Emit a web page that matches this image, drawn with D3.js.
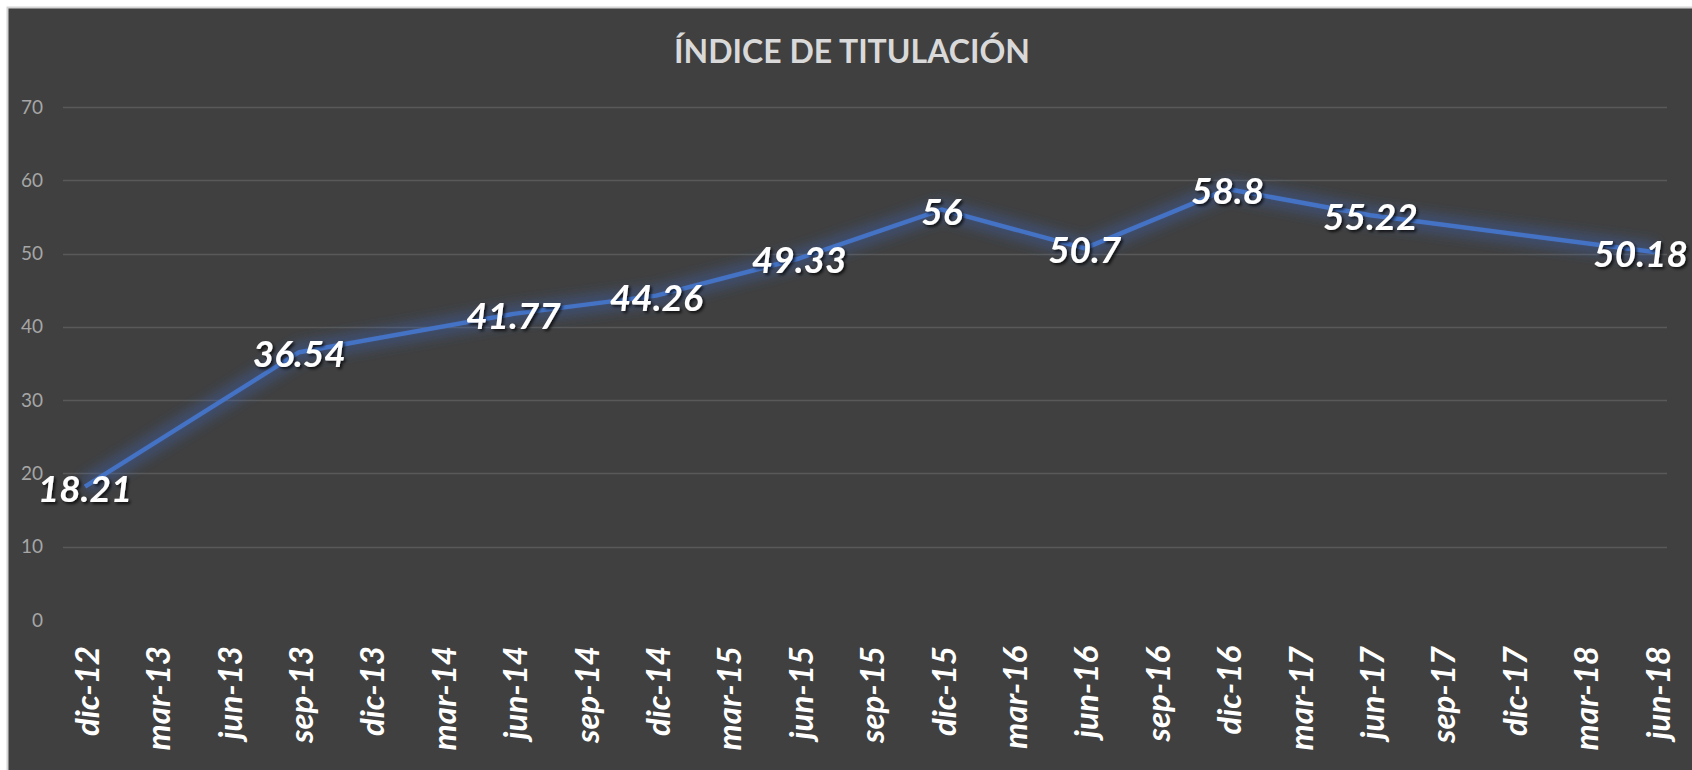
<!DOCTYPE html>
<html>
<head>
<meta charset="utf-8">
<script src="https://cdn.jsdelivr.net/npm/d3@7"></script>
<style>
  body { margin: 0; background: #ffffff; }
  svg { display: block; }
</style>
</head>
<body>
<svg id="chart"></svg>
<script>
const categories = [
  "dic-12", "mar-13", "jun-13", "sep-13", "dic-13", "mar-14", "jun-14", "sep-14",
  "dic-14", "mar-15", "jun-15", "sep-15", "dic-15", "mar-16", "jun-16", "sep-16",
  "dic-16", "mar-17", "jun-17", "sep-17", "dic-17", "mar-18", "jun-18"
];
// null where the quarter has no value, the line joins across the gap
const values = [
  18.21, null, null, 36.54, null, null, 41.77, null,
  44.26, null, 49.33, null, 56, null, 50.7, null,
  58.8, null, 55.22, null, null, null, 50.18
];
const yTicks = [0, 10, 20, 30, 40, 50, 60, 70];
const title = "ÍNDICE DE TITULACIÓN";

const width = 1692;
const height = 770;

const svg = d3.select("#chart")
  .attr("width", width)
  .attr("height", height);

const defs = svg.append("defs");

defs.append("filter")
  .attr("id", "glow")
  .attr("x", "-10%").attr("y", "-50%")
  .attr("width", "120%").attr("height", "200%")
  .append("feGaussianBlur")
  .attr("stdDeviation", 6);

const shadow = defs.append("filter")
  .attr("id", "shadow")
  .attr("x", "-20%").attr("y", "-30%")
  .attr("width", "140%").attr("height", "160%");
shadow.append("feDropShadow")
  .attr("dx", 2).attr("dy", 2)
  .attr("stdDeviation", 1.5)
  .attr("flood-color", "#000000")
  .attr("flood-opacity", 0.75);

// chart area
svg.append("rect")
  .attr("x", 7.5)
  .attr("y", 7.5)
  .attr("width", width)
  .attr("height", height)
  .attr("fill", "#404040")
  .attr("stroke", "#d4d4d4")
  .attr("stroke-width", 2);

const xScale = d3.scalePoint()
  .domain(categories)
  .range([85, 1656]);

const yScale = d3.scaleLinear()
  .domain([0, 70])
  .range([620, 107]);

// gridlines
svg.append("g")
  .selectAll("line")
  .data(yTicks.filter(d => d > 0))
  .join("line")
  .attr("x1", 63)
  .attr("x2", 1667)
  .attr("y1", d => Math.round(yScale(d)) + 0.5)
  .attr("y2", d => Math.round(yScale(d)) + 0.5)
  .attr("stroke", "#595959")
  .attr("stroke-width", 1.5);

// y axis labels
const yAxis = svg.append("g")
  .attr("transform", "translate(43,0)")
  .call(d3.axisLeft(yScale).tickValues(yTicks).tickSize(0).tickPadding(0));
yAxis.select(".domain").remove();
yAxis.selectAll("text")
  .attr("fill", "#a6a6a6")
  .attr("font-family", "Lato, sans-serif")
  .attr("font-size", 19);

// x axis labels, rotated
const xAxis = svg.append("g")
  .attr("transform", "translate(0,646)")
  .call(d3.axisBottom(xScale).tickSize(0).tickPadding(0));
xAxis.select(".domain").remove();
xAxis.selectAll("text")
  .attr("transform", "rotate(-90)")
  .attr("text-anchor", "end")
  .attr("x", 0)
  .attr("y", 0)
  .attr("dy", "0.4em")
  .attr("fill", "#ffffff")
  .attr("font-family", "Lato, sans-serif")
  .attr("font-weight", "bold")
  .attr("font-style", "italic")
  .attr("font-size", 33);

// title
svg.append("text")
  .attr("x", 852)
  .attr("y", 63)
  .attr("text-anchor", "middle")
  .attr("fill", "#d9d9d9")
  .attr("font-family", "Lato, sans-serif")
  .attr("font-weight", "bold")
  .attr("font-size", 32)
  .text(title);

const points = categories
  .map((c, i) => ({ c, v: values[i] }))
  .filter(d => d.v !== null);

const line = d3.line()
  .x(d => xScale(d.c))
  .y(d => yScale(d.v));

svg.append("path")
  .datum(points)
  .attr("d", line)
  .attr("fill", "none")
  .attr("stroke", "#3a66c0")
  .attr("stroke-width", 20)
  .attr("stroke-opacity", 0.35)
  .attr("stroke-linejoin", "round")
  .attr("filter", "url(#glow)");

svg.append("path")
  .datum(points)
  .attr("d", line)
  .attr("fill", "none")
  .attr("stroke", "#4472c4")
  .attr("stroke-width", 4.5)
  .attr("stroke-linejoin", "round");

// data labels, centered on the points, kept inside the chart
const labels = svg.append("g")
  .attr("font-family", "Lato, sans-serif")
  .attr("font-weight", "bold")
  .attr("font-style", "italic")
  .attr("font-size", 37)
  .attr("fill", "#ffffff")
  .attr("filter", "url(#shadow)");

labels.selectAll("text")
  .data(points)
  .join("text")
  .attr("x", d => xScale(d.c))
  .attr("y", d => yScale(d.v) + 15)
  .attr("text-anchor", "middle")
  .text(d => d.v)
  .each(function () {
    const box = this.getBBox();
    const over = box.x + box.width - 1688;
    if (over > 0) d3.select(this).attr("x", +d3.select(this).attr("x") - over);
  });
</script>
</body>
</html>
